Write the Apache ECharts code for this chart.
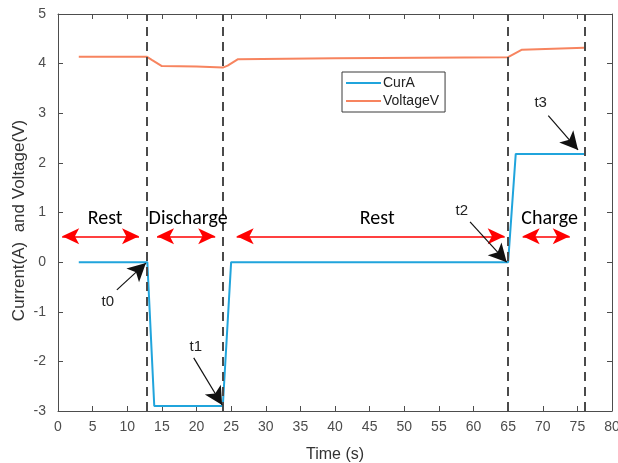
<!DOCTYPE html>
<html><head><meta charset="utf-8">
<script src="https://cdn.jsdelivr.net/npm/echarts@6/dist/echarts.min.js"></script>
<style>html,body{margin:0;padding:0;background:#fff}#c{width:618px;height:463px}</style>
</head><body><div id="c"></div>
<script>
// ---- data ----
const curX = [3, 12.9, 13.9, 23.8, 25, 65, 66.1, 76];
const curY = [0, 0, -2.9, -2.9, 0, 0, 2.18, 2.18];
const voltX = [3, 12.8, 13.6, 15, 20, 23.8, 24.5, 26, 40, 65, 67, 76];
const voltY = [4.14, 4.14, 4.07, 3.95, 3.94, 3.92, 3.96, 4.09, 4.11, 4.13, 4.28, 4.32];
const eventX = [12.8, 23.8, 65, 76];
const xTicks = [0, 80, 5];
const yTicks = [-3, 5, 1];
// phase annotations
const phaseNames = ['Rest', 'Discharge', 'Rest', 'Charge'];
const phaseStart = [0.6, 14.3, 25.8, 67.1];
const phaseEnd = [11.7, 22.7, 64.5, 73.9];
const phaseLabelX = [6.8, 18.8, 46.1, 71.0];
const phaseArrowY = 0.52;
const phaseLabelY = 0.87;
// time point annotations
const tNames = ['t0', 't1', 't2', 't3'];
const tLabelX = [7.2, 19.9, 58.3, 69.7];
const tLabelY = [-0.80, -1.71, 1.03, 3.21];
const tFromX = [8.5, 19.6, 59.5, 70.8];
const tFromY = [-0.56, -1.93, 0.81, 2.95];
const tToX = [12.7, 23.7, 64.8, 75.1];
const tToY = [-0.02, -2.88, 0.0, 2.26];

const axisColor = '#4d4d4d';
const font = 'Liberation Sans, Arial, sans-serif';

const redLines = phaseStart.map((s, i) => [
  {coord: [s, phaseArrowY]}, {coord: [phaseEnd[i], phaseArrowY]}
]);
const blackArrows = tNames.map((n, i) => [
  {coord: [tFromX[i], tFromY[i]]}, {coord: [tToX[i], tToY[i]]}
]);
const phaseLabels = phaseNames.map((n, i) => ({
  coord: [phaseLabelX[i], phaseLabelY], value: n
}));
const tLabels = tNames.map((n, i) => ({coord: [tLabelX[i], tLabelY[i]], value: n}));

const chart = echarts.init(document.getElementById('c'), null, {renderer: 'canvas'});
chart.setOption({
  animation: false,
  backgroundColor: '#fff',
  grid: {left: 58, right: 6, top: 14, bottom: 52, containLabel: false, outerBoundsMode: 'none'},
  legend: {
    orient: 'vertical', left: 342, top: 72, width: 104,
    padding: [4, 6, 4, 4], itemGap: 4,
    borderColor: '#3a3a3a', borderWidth: 1, backgroundColor: '#fff',
    itemWidth: 35, itemHeight: 12,
    textStyle: {fontSize: 14, color: '#222', fontFamily: font, padding: [0, 0, 0, -3]},
    data: [
      {name: 'CurA', icon: 'path://M0,5 L35,5 L35,7 L0,7 Z'},
      {name: 'VoltageV', icon: 'path://M0,5 L35,5 L35,7 L0,7 Z'}
    ]
  },
  xAxis: [{
    type: 'value', min: xTicks[0], max: xTicks[1], interval: xTicks[2],
    name: 'Time (s)', nameLocation: 'middle', nameGap: 36, nameMoveOverlap: false,
    nameTextStyle: {fontSize: 16, color: '#333', fontFamily: font},
    axisLine: {show: true, onZero: false, lineStyle: {color: axisColor, width: 1}},
    axisTick: {show: true, inside: true, length: 5, lineStyle: {color: axisColor}},
    axisLabel: {fontSize: 14, color: axisColor, fontFamily: font, margin: 9},
    splitLine: {show: false}
  }, {
    type: 'value', position: 'top', min: xTicks[0], max: xTicks[1], interval: xTicks[2],
    axisLine: {show: true, onZero: false, lineStyle: {color: axisColor, width: 1}},
    axisTick: {show: true, inside: true, length: 5, lineStyle: {color: axisColor}},
    axisLabel: {show: false}, splitLine: {show: false}
  }],
  yAxis: [{
    type: 'value', min: yTicks[0], max: yTicks[1], interval: yTicks[2],
    name: 'Current(A)  and Voltage(V)', nameLocation: 'middle', nameGap: 30, nameMoveOverlap: false,
    nameTextStyle: {fontSize: 17, color: '#333', fontFamily: font, padding: [0, 16, 0, 0]},
    axisLine: {show: true, onZero: false, lineStyle: {color: axisColor, width: 1}},
    axisTick: {show: true, inside: true, length: 5, lineStyle: {color: axisColor}},
    axisLabel: {fontSize: 14, color: axisColor, fontFamily: font, margin: 12},
    splitLine: {show: false}
  }, {
    type: 'value', position: 'right', min: yTicks[0], max: yTicks[1], interval: yTicks[2],
    axisLine: {show: true, onZero: false, lineStyle: {color: axisColor, width: 1}},
    axisTick: {show: true, inside: true, length: 5, lineStyle: {color: axisColor}},
    axisLabel: {show: false}, splitLine: {show: false}
  }],
  series: [{
    name: 'CurA', type: 'line', showSymbol: false, symbol: 'none',
    color: '#20a4dc',
    lineStyle: {width: 2, color: '#20a4dc'},
    data: curX.map((x, i) => [x, curY[i]]),
    z: 3,
    markLine: {
      silent: true, animation: false,
      symbol: 'none', label: {show: false},
      lineStyle: {color: '#4a4a4a', width: 2, type: [9, 6]},
      data: eventX.map(x => ({xAxis: x}))
    }
  }, {
    name: 'VoltageV', type: 'line', showSymbol: false, symbol: 'none',
    color: '#f7845f',
    lineStyle: {width: 2, color: '#f7845f'},
    data: voltX.map((x, i) => [x, voltY[i]]),
    z: 3
  }, {
    name: 'phases', type: 'line', data: [], z: 5,
    markLine: {
      silent: true, animation: false,
      symbol: ['arrow', 'arrow'], symbolSize: [12, 17],
      label: {show: false},
      lineStyle: {color: '#ff0000', width: 1.5, type: 'solid'},
      itemStyle: {color: '#ff0000'},
      data: redLines
    },
    markPoint: {
      silent: true, animation: false,
      symbol: 'circle', symbolSize: 1,
      itemStyle: {color: 'rgba(0,0,0,0)'},
      label: {show: true, position: 'inside', fontSize: 20, color: '#000',
              fontFamily: 'Carlito, Noto Sans, Open Sans, sans-serif',
              formatter: p => p.value},
      data: phaseLabels
    }
  }, {
    name: 'times', type: 'line', data: [], z: 6,
    markLine: {
      silent: true, animation: false,
      symbol: ['none', 'arrow'], symbolSize: [14, 18],
      label: {show: false},
      lineStyle: {color: '#111', width: 1.2, type: 'solid'},
      itemStyle: {color: '#000'},
      data: blackArrows
    },
    markPoint: {
      silent: true, animation: false,
      symbol: 'circle', symbolSize: 1,
      itemStyle: {color: 'rgba(0,0,0,0)'},
      label: {show: true, position: 'inside', fontSize: 15, color: '#222',
              fontFamily: font, formatter: p => p.value},
      data: tLabels
    }
  }]
});
</script></body></html>
